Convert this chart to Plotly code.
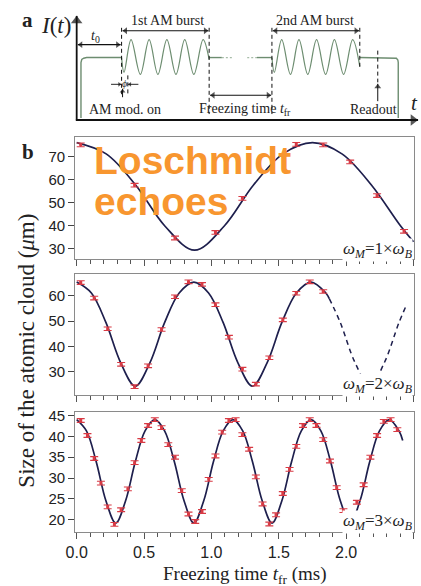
import plotly.graph_objects as go

W, H = 421, 586

# ---------------- panel b: measured cloud size and fitted curves ----------------
# omega_M = 1 x omega_B
t1_data = [0.03, 0.43, 0.73, 1.03, 1.23, 1.63, 1.83, 2.03, 2.23, 2.43]
s1_data = [75.0, 57.5, 34.6, 37.0, 51.8, 75.2, 75.0, 67.6, 53.0, 37.5]
t1_fit = [0.0, 0.219, 0.4375, 0.656, 0.875, 1.094, 1.3125, 1.531, 1.75, 1.969, 2.1875, 2.406, 2.5]
s1_fit = [76.0, 71.1, 57.6, 39.7, 29.3, 39.7, 57.6, 71.1, 76.0, 71.1, 57.6, 39.7, 33.0]

# omega_M = 2 x omega_B
t2_data = [0.03, 0.13, 0.23, 0.33, 0.43, 0.53, 0.63, 0.73, 0.83, 0.93,
           1.03, 1.13, 1.23, 1.33, 1.43, 1.53, 1.63, 1.73, 1.83]
s2_data = [65.2, 59.1, 47.0, 33.0, 24.2, 32.4, 46.7, 59.6, 65.5, 64.5,
           56.5, 43.7, 31.1, 25.2, 35.6, 50.5, 61.0, 65.5, 61.7]
t2_fit = [0.0, 0.109, 0.2175, 0.326, 0.435, 0.544, 0.6525, 0.761, 0.87, 0.979,
          1.0875, 1.196, 1.305, 1.414, 1.5225, 1.631, 1.74, 1.849, 1.875]
s2_fit = [65.4, 61.1, 49.4, 33.7, 24.4, 33.7, 49.4, 61.1, 65.4, 61.1,
          49.4, 33.7, 24.4, 33.7, 49.4, 61.1, 65.4, 61.1, 58.9]
t2_ext = [1.875, 1.957, 2.066, 2.175, 2.284, 2.392, 2.45]
s2_ext = [58.9, 49.4, 33.7, 24.4, 33.7, 49.4, 56.6]

# omega_M = 3 x omega_B
t3_data = [0.03, 0.08, 0.13, 0.18, 0.23, 0.28, 0.33, 0.38, 0.43, 0.48,
           0.53, 0.58, 0.63, 0.68, 0.73, 0.78, 0.83, 0.88, 0.93, 0.98,
           1.03, 1.08, 1.13, 1.18, 1.23, 1.28, 1.33, 1.38, 1.43, 1.48,
           1.53, 1.58, 1.63, 1.68, 1.73, 1.78, 1.83, 1.88, 1.93, 1.98,
           2.03, 2.08, 2.13, 2.18, 2.23, 2.28, 2.33, 2.38]
s3_data = [43.8, 40.2, 34.7, 28.8, 23.1, 18.9, 22.4, 27.4, 33.7, 39.0,
           42.6, 44.0, 42.1, 38.0, 35.0, 27.0, 21.4, 19.6, 22.0, 29.7,
           35.3, 41.0, 43.8, 44.0, 40.4, 36.9, 30.3, 23.8, 19.0, 21.2,
           26.3, 32.1, 37.6, 42.6, 44.0, 42.6, 39.2, 34.1, 27.7, 22.2,
           19.5, 24.2, 28.4, 35.0, 40.2, 43.6, 44.0, 41.6]
t3_fit = [0.0, 0.0725, 0.145, 0.2175, 0.29, 0.3625, 0.435, 0.5075, 0.58,
          0.6525, 0.725, 0.7975, 0.87, 0.9425, 1.015, 1.0875, 1.16,
          1.2325, 1.305, 1.3775, 1.45, 1.5225, 1.595, 1.6675, 1.74,
          1.8125, 1.885, 1.9575, 2.03, 2.1025, 2.175, 2.2475, 2.32, 2.3925, 2.42]
s3_fit = [44.0, 41.3, 33.9, 24.5, 19.2, 24.5, 33.9, 41.3, 44.0,
          41.3, 33.9, 24.5, 19.2, 24.5, 33.9, 41.3, 44.0,
          41.3, 33.9, 24.5, 19.2, 24.5, 33.9, 41.3, 44.0,
          41.3, 33.9, 24.5, 19.2, 24.5, 33.9, 41.3, 44.0, 41.3, 39.0]

x_ticks = [0.0, 0.5, 1.0, 1.5, 2.0, 2.5]
x_tick_text = ["0.0", "0.5", "1.0", "1.5", "2.0", "2.5"]
y1_ticks = [30, 40, 50, 60, 70]
y2_ticks = [30, 40, 50, 60]
y3_ticks = [20, 25, 30, 35, 40, 45]
mod_ratios = ["1", "2", "3"]

# ---------------- panel a: schematic of the modulation sequence (pixel units) ----------------
lead_x = [72.7, 72.7, 73.5, 75.5, 78.5, 114.3]
lead_y = [114, 58, 55, 53.7, 53, 53]
burst1_x = [114.3, 116.8, 124.0, 133.5, 142.5, 151.5, 160.7, 170.0, 179.0, 188.3, 197.8, 204.0]
burst1_y = [53, 68, 35, 70, 35, 70, 35, 70, 35, 70, 35, 55]
burst2_x = [268.3, 270.8, 278.3, 287.3, 296.0, 305.0, 314.0, 323.3, 332.3, 341.7, 351.0, 358.3]
burst2_y = [53, 68, 35, 70, 35, 70, 35, 70, 35, 70, 35, 62]
gap_solid = [(204.0, 217.0), (253.0, 268.3)]
gap_dotted = [(217.0, 229.0), (243.0, 253.0)]
tail_x = [358.3, 393.0, 395.8, 397.3, 397.7, 397.7]
tail_y = [53, 53, 53.7, 55.5, 58, 114]
level_y = 53

NAVY = "#1e1f4d"
RED = "#d83a44"
GREEN = "#6d8d70"
FRAME = "#8a8a8a"
SERIF = "Liberation Serif, Times New Roman, serif"
SANS_N = "Liberation Sans Narrow, Liberation Sans, Arial, sans-serif"


def fx(px):
    return px / W


def fy(py):
    return 1 - py / H


fig = go.Figure()

# fitted curves and data
panels = [
    ("x", "y", t1_fit, s1_fit, t1_data, s1_data, 0.8),
    ("x2", "y2", t2_fit, s2_fit, t2_data, s2_data, 0.7),
    ("x3", "y3", t3_fit, s3_fit, t3_data, s3_data, 0.45),
]
for xa, ya, tf, sf, td, sd, err in panels:
    fig.add_trace(go.Scatter(x=tf, y=sf, xaxis=xa, yaxis=ya, mode="lines",
                             line=dict(color=NAVY, width=1.7, shape="spline", smoothing=1.0),
                             hoverinfo="skip", showlegend=False))
    fig.add_trace(go.Scatter(x=td, y=sd, xaxis=xa, yaxis=ya, mode="markers",
                             marker=dict(symbol="square", size=3, color=RED),
                             error_y=dict(type="constant", value=err, color=RED,
                                          thickness=1.1, width=4),
                             showlegend=False))
    if xa == "x2":
        fig.add_trace(go.Scatter(x=t2_ext, y=s2_ext, xaxis=xa, yaxis=ya, mode="lines",
                                 line=dict(color=NAVY, width=1.5, dash="5px,4px",
                                           shape="spline", smoothing=1.0),
                                 hoverinfo="skip", showlegend=False))

# schematic waveform
sch = dict(xaxis="x4", yaxis="y4", mode="lines", hoverinfo="skip", showlegend=False)
fig.add_trace(go.Scatter(x=lead_x, y=lead_y, line=dict(color=GREEN, width=1.4), **sch))
fig.add_trace(go.Scatter(x=burst1_x, y=burst1_y,
                         line=dict(color=GREEN, width=1.2, shape="spline", smoothing=1.0), **sch))
fig.add_trace(go.Scatter(x=burst2_x, y=burst2_y,
                         line=dict(color=GREEN, width=1.2, shape="spline", smoothing=1.0), **sch))
for a, b in gap_solid:
    fig.add_trace(go.Scatter(x=[a, b], y=[level_y, level_y], line=dict(color=GREEN, width=1.4), **sch))
for a, b in gap_dotted:
    fig.add_trace(go.Scatter(x=[a, b], y=[level_y, level_y],
                             line=dict(color="#a7bca8", width=1.2, dash="2px,2px"), **sch))
fig.add_trace(go.Scatter(x=tail_x, y=tail_y, line=dict(color=GREEN, width=1.4), **sch))

# axes for panel b
xb = dict(range=[-0.0116, 2.5072], domain=[fx(66.7), fx(414.3)],
          showline=True, linecolor=FRAME, linewidth=1, mirror=True,
          ticks="outside", ticklen=6, tickwidth=1, tickcolor="#555",
          tickvals=x_ticks, ticktext=x_tick_text,
          minor=dict(dtick=0.1, tick0=0, ticks="outside", ticklen=4, tickcolor="#555", tickwidth=1),
          showgrid=False, zeroline=False,
          tickfont=dict(family=SANS_N, size=16, color="#222"))
yb = dict(showline=True, linecolor=FRAME, linewidth=1, mirror=True,
          ticks="outside", ticklen=6, tickwidth=1, tickcolor="#444",
          showgrid=False, zeroline=False,
          tickfont=dict(family=SANS_N, size=15, color="#222"))

fig.update_layout(
    width=W, height=H, margin=dict(l=0, r=0, t=0, b=0),
    paper_bgcolor="white", plot_bgcolor="white",
    xaxis=dict(xb, anchor="y", showticklabels=False),
    yaxis=dict(yb, anchor="x", domain=[fy(256.5), fy(133.5)], range=[25.35, 78.26], tickvals=y1_ticks),
    xaxis2=dict(xb, anchor="y2", showticklabels=False),
    yaxis2=dict(yb, anchor="x2", domain=[fy(393.3), fy(271)], range=[20.94, 68.7], tickvals=y2_ticks),
    xaxis3=dict(xb, anchor="y3", showticklabels=True, ticklabelstandoff=0),
    yaxis3=dict(yb, anchor="x3", domain=[fy(531.7), fy(410)], range=[17.04, 45.95], tickvals=y3_ticks),
    xaxis4=dict(domain=[0, 1], range=[0, W], visible=False, anchor="y4"),
    yaxis4=dict(domain=[fy(122), 1], range=[122, 0], visible=False, anchor="x4"),
    showlegend=False,
)

ann = []

# modulation-frequency labels in the lower-right corners
for ratio, yc in zip(mod_ratios, [247, 383, 521]):
    ann.append(dict(xref="paper", yref="paper", x=fx(413), y=fy(yc),
                    xanchor="right", yanchor="middle", showarrow=False,
                    text="<i>\u03c9</i><sub><i>M</i></sub>=" + ratio +
                         "\u00d7<i>\u03c9</i><sub><i>B</i></sub>",
                    font=dict(family=SERIF, size=17, color="#222"),
                    bgcolor="white", borderpad=0))

# overlay caption
for word, yc in [("Loschmidt", 157), ("echoes", 198)]:
    ann.append(dict(xref="paper", yref="paper", x=fx(84), y=fy(yc), xanchor="left", yanchor="middle",
                    text="<b>" + word + "</b>", showarrow=False,
                    font=dict(family="Liberation Sans, Arial, sans-serif", size=39, color="#F8962F")))

# axis titles
ann.append(dict(xref="paper", yref="paper", x=fx(240), y=fy(575), xanchor="center", yanchor="middle",
                text="Freezing time <i>t</i><sub>fr</sub> (ms)", showarrow=False,
                font=dict(family=SERIF, size=19, color="#222")))
ann.append(dict(xref="paper", yref="paper", x=fx(16), y=fy(349), xanchor="center", yanchor="middle",
                text="Size of the atomic cloud (<i>\u03bc</i>m)", showarrow=False, textangle=-90,
                font=dict(family=SERIF, size=23, color="#222")))

# panel letters
ann.append(dict(xref="paper", yref="paper", x=fx(18), y=fy(15), xanchor="center", yanchor="middle",
                text="<b>a</b>", showarrow=False, font=dict(family=SERIF, size=21, color="#222")))
ann.append(dict(xref="paper", yref="paper", x=fx(18), y=fy(148), xanchor="center", yanchor="middle",
                text="<b>b</b>", showarrow=False, font=dict(family=SERIF, size=21, color="#222")))


def txt(x, y, s, size=14):
    return dict(xref="x4", yref="y4", x=x, y=y, text=s, showarrow=False,
                xanchor="center", yanchor="middle",
                font=dict(family=SERIF, size=size, color="#222"))


ann += [
    txt(47, 21, "<i>I</i>(<i>t</i>)", size=23),
    txt(414, 99, "<i>t</i>", size=21),
    txt(88, 32, "<i>t</i><sub>0</sub>", size=14),
    txt(161, 16, "1st AM burst", size=14),
    txt(312, 16, "2nd AM burst", size=14),
    txt(241, 105, "Freezing time <i>t</i><sub>fr</sub>", size=14),
    txt(117.5, 79, "<i>\u03d5</i>", size=10),
    txt(118, 105, "AM mod. on", size=14),
    txt(372.5, 105, "Readout", size=14),
]
fig.update_layout(annotations=ann)

# arrows of the schematic: a line plus triangular heads
shapes = []
head_x, head_y, head_sym, head_size = [], [], [], []


def arrow(x0, y0, x1, y1, both=False, width=1.1, size=6):
    r = size / 2.0
    ends = [(x0, y0, x1, y1)]
    if both:
        ends.append((x1, y1, x0, y0))
    for sx, sy, ex, ey in ends:
        if sy == ey:
            d = 1 if ex > sx else -1
            head_x.append(ex - d * r)
            head_y.append(ey)
            head_sym.append("triangle-right" if d > 0 else "triangle-left")
        else:
            d = 1 if ey > sy else -1
            head_x.append(ex)
            head_y.append(ey - d * r)
            head_sym.append("triangle-down" if d > 0 else "triangle-up")
        head_size.append(size)
    shapes.append(dict(type="line", xref="x4", yref="y4", x0=x0, y0=y0, x1=x1, y1=y1,
                       line=dict(color="#111", width=width)))


arrow(68.3, 116.5, 68.3, 11, width=1.8, size=10)
arrow(67.5, 116, 418, 116, width=1.8, size=10)
arrow(69.5, 40, 113.3, 40, both=True)
arrow(115.3, 26, 203.2, 26, both=True)
arrow(269.2, 26, 357.5, 26, both=True)
arrow(205, 91, 267.5, 91, both=True)
arrow(103.5, 80, 114.0, 80, width=0.9, size=4)
arrow(131.5, 80, 121.0, 80, width=0.9, size=4)
arrow(115.3, 93, 115.3, 84.5, width=1.0, size=5)
arrow(376.7, 97, 376.7, 79.5, width=1.0, size=6)

fig.add_trace(go.Scatter(x=head_x, y=head_y, xaxis="x4", yaxis="y4", mode="markers",
                         marker=dict(symbol=head_sym, size=head_size, color="#111",
                                     line=dict(width=0)),
                         hoverinfo="skip", showlegend=False))

# dashed timing markers
dash = dict(color="#111", width=1, dash="4px,3px")
vlines = [(114.3, 23, 90), (120.7, 71, 91), (204.0, 23, 110), (268.3, 23, 110),
          (358.3, 23, 64), (376.7, 46, 78)]
shapes += [dict(type="line", xref="x4", yref="y4", x0=x, x1=x, y0=a, y1=b, line=dash)
           for x, a, b in vlines]
fig.update_layout(shapes=shapes)

fig.write_html("out.html", config={"displayModeBar": False})
